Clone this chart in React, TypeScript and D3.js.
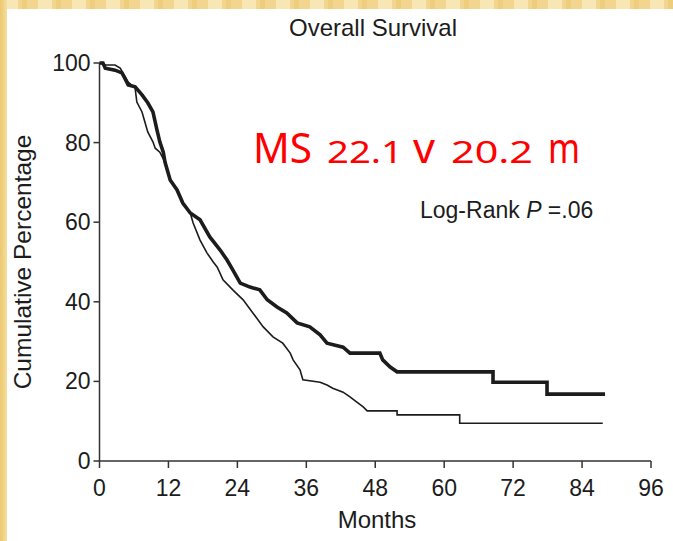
import React from 'react';
import * as d3 from 'd3';

// thick curve (MS 22.1 m) – vertices, plateaus given by both ends
const armAMonths = [0, 0.6, 1.0, 2.7, 3.9, 4.4, 5.0, 6.2, 7.4, 8.4, 9.3, 10.0, 10.5, 11.1, 11.4, 12.3, 13.5, 14.5, 15.8, 17.5, 19.2, 21.0, 22.2, 23.2, 24.5, 26.2, 27.9, 29.2, 30.9, 32.6, 34.4, 36.6, 38.4, 39.6, 42.4, 43.6, 48.8, 49.3, 50.6, 51.8, 68.5, 68.5, 77.9, 77.9, 88.0];
const armAPct = [100, 100, 98.7, 98.2, 97.5, 96.2, 94.5, 94.0, 92.0, 90.0, 87.7, 83.2, 80.2, 77.6, 75.1, 70.6, 68.1, 64.8, 62.3, 60.6, 56.3, 53.0, 50.5, 48.0, 44.7, 43.7, 43.0, 40.5, 38.7, 37.2, 34.7, 33.7, 31.7, 29.6, 28.6, 27.1, 27.1, 25.4, 23.6, 22.4, 22.4, 19.8, 19.8, 16.8, 16.8];

// thin curve (MS 20.2 m)
const armBMonths = [0, 1.0, 2.7, 3.6, 5.0, 6.2, 6.5, 7.4, 7.9, 8.4, 9.3, 9.7, 10.5, 11.4, 12.3, 13.5, 14.5, 15.8, 16.3, 17.5, 18.7, 19.8, 20.5, 21.5, 23.2, 25.0, 26.7, 28.5, 30.2, 31.9, 33.2, 33.7, 34.9, 35.4, 38.4, 39.6, 40.6, 42.4, 43.6, 44.8, 45.9, 46.6, 51.8, 51.8, 62.7, 62.7, 87.6];
const armBPct = [100, 99.5, 99.5, 98.7, 95.2, 93.7, 90.2, 87.7, 85.2, 82.7, 80.2, 78.6, 77.6, 75.1, 70.6, 68.1, 64.8, 62.3, 59.8, 55.5, 52.3, 50.0, 48.7, 45.5, 43.0, 40.5, 37.2, 33.7, 31.2, 29.6, 27.1, 25.4, 22.9, 20.4, 19.8, 19.1, 18.3, 17.3, 16.1, 14.8, 13.6, 12.6, 12.6, 11.6, 11.6, 9.5, 9.5];

const xTicks = [0, 12, 24, 36, 48, 60, 72, 84, 96];
const yTicks = [0, 20, 40, 60, 80, 100];

const W = 673;
const H = 541;
const font = '"Liberation Sans", Arial, Helvetica, sans-serif';
const ink = '#1c1c1c';

export default function App() {
  const x = d3.scaleLinear().domain([0, 96]).range([99.5, 651]);
  const y = d3.scaleLinear().domain([0, 100]).range([461, 63]);

  const line = d3.line<[number, number]>()
    .x((d) => x(d[0]))
    .y((d) => y(d[1]));

  const armA = line(armAMonths.map((m, i) => [m, armAPct[i]] as [number, number]));
  const armB = line(armBMonths.map((m, i) => [m, armBPct[i]] as [number, number]));

  return (
    <svg width={W} height={H} style={{ position: 'absolute', left: 0, top: 0, display: 'block' }}>
      <defs>
        <pattern id="stripes" width="34" height="10" patternUnits="userSpaceOnUse">
          <rect width="34" height="10" fill="#f2d68f" />
          <rect x="4" width="14" height="10" fill="#f8e6b4" />
          <rect x="22" width="5" height="10" fill="#eecd7c" />
        </pattern>
        <linearGradient id="leftEdge" x1="0" x2="1" y1="0" y2="0">
          <stop offset="0" stopColor="#ecc86f" />
          <stop offset="1" stopColor="#f5df9f" />
        </linearGradient>
      </defs>
      <rect width={W} height={H} fill="#ffffff" />
      <rect width={W} height={9} fill="url(#stripes)" />
      <rect width={7} height={H} fill="url(#leftEdge)" />

      <text x={373} y={36} textAnchor="middle" fontFamily={font} fontSize={24} fill={ink}>Overall Survival</text>

      {/* axes */}
      <line x1={x(0)} x2={x(0)} y1={y(100)} y2={y(0)} stroke="#333" strokeWidth={1.5} />
      <line x1={x(0)} x2={x(96)} y1={y(0)} y2={y(0)} stroke="#333" strokeWidth={1.5} />
      {yTicks.map((t) => (
        <g key={`y${t}`}>
          <line x1={x(0) - 6} x2={x(0)} y1={y(t)} y2={y(t)} stroke="#333" strokeWidth={1.5} />
          <text x={x(0) - 9} y={y(t) + 8} textAnchor="end" fontFamily={font} fontSize={23} fill={ink}>{t}</text>
        </g>
      ))}
      {xTicks.map((t) => (
        <g key={`x${t}`}>
          <line x1={x(t)} x2={x(t)} y1={y(0)} y2={y(0) + 7} stroke="#333" strokeWidth={1.5} />
          <text x={x(t)} y={y(0) + 35} textAnchor="middle" fontFamily={font} fontSize={23} fill={ink}>{t}</text>
        </g>
      ))}
      <text x={377} y={528} textAnchor="middle" fontFamily={font} fontSize={24} fill={ink}>Months</text>
      <text transform={`translate(31, 262) rotate(-90)`} textAnchor="middle" fontFamily={font} fontSize={24.5} fill={ink}>Cumulative Percentage</text>

      {/* curves */}
      <path d={armB ?? ''} fill="none" stroke={ink} strokeWidth={1.6} strokeLinejoin="miter" />
      <path d={armA ?? ''} fill="none" stroke={ink} strokeWidth={3.6} strokeLinejoin="miter" />

      <text x={420} y={218} fontFamily={font} fontSize={23} fill={ink}>
        Log-Rank <tspan fontStyle="italic">P</tspan> =.06
      </text>

      {/* annotation */}
      <g fontFamily='"Noto Sans", "Open Sans", sans-serif' fill="#ff0000">
        <text x={253} y={163} fontSize={42} textLength={59} lengthAdjust="spacingAndGlyphs">MS</text>
        <text x={327} y={163} fontSize={31} textLength={76} lengthAdjust="spacingAndGlyphs">22.1</text>
        <text x={413} y={163} fontSize={42} textLength={22} lengthAdjust="spacingAndGlyphs">v</text>
        <text x={451} y={163} fontSize={31} textLength={82} lengthAdjust="spacingAndGlyphs">20.2</text>
        <text x={548} y={163} fontSize={42} textLength={32} lengthAdjust="spacingAndGlyphs">m</text>
      </g>
    </svg>
  );
}
